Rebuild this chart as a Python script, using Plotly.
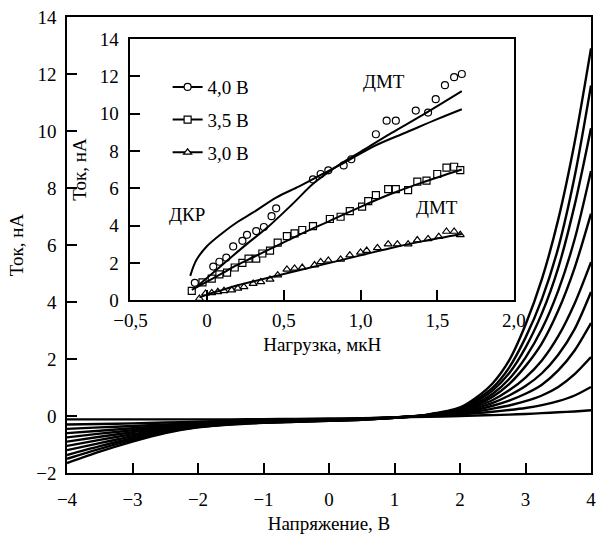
import plotly.graph_objects as go

# ---------------- main chart data: I-V curves ----------------
V = [-4, -3.5, -3, -2.5, -2, -1.5, -1, -0.5, 0, 0.5, 1, 1.5,
     2, 2.25, 2.5, 2.75, 3, 3.25, 3.5, 3.75, 4]

I_c1 = [-1.65, -1.25, -0.9, -0.6, -0.4, -0.3, -0.24, -0.2, -0.17, -0.13, -0.06, 0.05,
        0.3, 0.65, 1.15, 1.95, 3.2, 4.8, 6.9, 9.6, 12.9]
I_c2 = [-1.5, -1.15, -0.84, -0.57, -0.39, -0.29, -0.23, -0.2, -0.17, -0.13, -0.06, 0.04,
        0.27, 0.58, 1.0, 1.7, 2.75, 4.1, 5.9, 8.4, 11.6]
I_c3 = [-1.37, -1.06, -0.78, -0.54, -0.37, -0.28, -0.23, -0.19, -0.16, -0.12, -0.06, 0.04,
        0.24, 0.52, 0.9, 1.5, 2.4, 3.6, 5.2, 7.4, 10.1]
I_c4 = [-1.2, -0.95, -0.71, -0.5, -0.35, -0.27, -0.22, -0.18, -0.15, -0.12, -0.06, 0.03,
        0.21, 0.45, 0.78, 1.3, 2.05, 3.05, 4.4, 6.2, 8.6]
I_c5 = [-1.05, -0.84, -0.64, -0.46, -0.33, -0.26, -0.21, -0.17, -0.15, -0.11, -0.05, 0.03,
        0.19, 0.4, 0.68, 1.12, 1.75, 2.55, 3.7, 5.2, 7.1]
I_c6 = [-0.9, -0.73, -0.57, -0.42, -0.31, -0.25, -0.2, -0.17, -0.14, -0.11, -0.05, 0.02,
        0.16, 0.34, 0.56, 0.9, 1.35, 1.95, 2.8, 3.95, 5.4]
I_c7 = [-0.75, -0.62, -0.5, -0.38, -0.3, -0.24, -0.19, -0.16, -0.14, -0.1, -0.05, 0.02,
        0.14, 0.28, 0.46, 0.72, 1.05, 1.5, 2.15, 3.05, 4.35]
I_c8 = [-0.6, -0.52, -0.43, -0.34, -0.28, -0.22, -0.18, -0.15, -0.13, -0.1, -0.05, 0.01,
        0.11, 0.22, 0.36, 0.54, 0.78, 1.1, 1.6, 2.3, 3.26]
I_c9 = [-0.45, -0.4, -0.35, -0.3, -0.25, -0.2, -0.17, -0.14, -0.12, -0.09, -0.05, 0.0,
        0.08, 0.16, 0.26, 0.37, 0.52, 0.72, 1.02, 1.47, 2.07]
I_c10 = [-0.3, -0.28, -0.26, -0.23, -0.2, -0.17, -0.15, -0.13, -0.11, -0.09, -0.05, 0.0,
         0.05, 0.1, 0.15, 0.21, 0.28, 0.38, 0.52, 0.72, 1.02]
I_c11 = [-0.12, -0.12, -0.12, -0.12, -0.12, -0.12, -0.11, -0.1, -0.09, -0.08, -0.05, -0.03,
         0.0, 0.02, 0.03, 0.05, 0.07, 0.1, 0.13, 0.16, 0.2]
main_curves = [I_c1, I_c2, I_c3, I_c4, I_c5, I_c6, I_c7, I_c8, I_c9, I_c10, I_c11]

# ---------------- inset data: current vs load ----------------
F_40 = [-0.08, 0.04, 0.08, 0.125, 0.17, 0.23, 0.26, 0.32, 0.37, 0.42, 0.45, 0.69, 0.74,
        0.79, 0.89, 0.94, 1.10, 1.17, 1.23, 1.36, 1.44, 1.49, 1.55, 1.61, 1.66]
I_40 = [0.93, 1.8, 2.06, 2.28, 2.88, 3.18, 3.5, 3.7, 3.92, 4.5, 4.92, 6.47, 6.76,
        6.96, 7.22, 7.55, 8.89, 9.62, 9.62, 10.16, 10.05, 10.77, 11.52, 11.95, 12.12]

F_35 = [-0.10, -0.03, 0.03, 0.08, 0.13, 0.18, 0.23, 0.27, 0.32, 0.36, 0.41, 0.46, 0.52,
        0.57, 0.62, 0.69, 0.80, 0.87, 0.93, 1.01, 1.05, 1.10, 1.18, 1.23, 1.31, 1.37,
        1.43, 1.50, 1.56, 1.61, 1.65]
I_35 = [0.5, 0.95, 1.16, 1.38, 1.48, 1.75, 2.0, 2.23, 2.23, 2.5, 2.65, 3.08, 3.43,
        3.58, 3.76, 3.97, 4.35, 4.47, 4.77, 5.01, 5.31, 5.63, 5.95, 5.95, 5.90, 6.35,
        6.41, 6.76, 7.10, 7.15, 6.97]

F_30 = [-0.05, -0.01, 0.03, 0.07, 0.11, 0.16, 0.20, 0.24, 0.30, 0.35, 0.41, 0.46, 0.52,
        0.57, 0.62, 0.70, 0.74, 0.79, 0.87, 0.93, 1.00, 1.04, 1.11, 1.18, 1.24, 1.31,
        1.37, 1.44, 1.51, 1.56, 1.61, 1.65]
I_30 = [0.09, 0.36, 0.39, 0.45, 0.50, 0.54, 0.63, 0.71, 0.89, 0.98, 1.11, 1.34, 1.65,
        1.70, 1.75, 1.88, 2.05, 2.13, 2.18, 2.41, 2.56, 2.66, 2.8, 3.0, 3.0, 3.0,
        3.22, 3.28, 3.40, 3.68, 3.68, 3.5]

# fit lines
F_dmt40 = [-0.07, 0.1, 0.25, 0.4, 0.55, 0.7, 0.85, 1.0, 1.2, 1.4, 1.66]
I_dmt40 = [0.7, 1.9, 2.95, 3.95, 5.1, 6.3, 7.2, 7.95, 8.95, 9.9, 11.2]
F_jkr40 = [-0.11, -0.07, 0.0, 0.1, 0.2, 0.3, 0.45, 0.6, 0.75, 0.9, 1.1, 1.3, 1.5, 1.66]
I_jkr40 = [1.3, 2.15, 2.9, 3.6, 4.2, 4.7, 5.5, 6.1, 6.75, 7.4, 8.3, 9.0, 9.7, 10.23]
F_fit35 = [-0.1, 0.0, 0.1, 0.2, 0.3, 0.45, 0.6, 0.8, 1.0, 1.2, 1.4, 1.66]
I_fit35 = [0.55, 1.0, 1.45, 1.9, 2.3, 2.9, 3.5, 4.25, 5.0, 5.7, 6.3, 7.0]
F_fit30 = [-0.05, 0.0, 0.1, 0.2, 0.3, 0.45, 0.6, 0.8, 1.0, 1.2, 1.4, 1.66]
I_fit30 = [0.15, 0.3, 0.55, 0.8, 1.0, 1.3, 1.6, 2.0, 2.4, 2.8, 3.15, 3.55]

legend_names = ["4,0 В", "3,5 В", "3,0 В"]
label_txt = ["ДМТ", "ДМТ", "ДКР"]
label_x = [1.15, 1.50, -0.13]
label_y = [11.7, 4.95, 4.6]

main_xt = [-4, -3, -2, -1, 0, 1, 2, 3, 4]
main_yt = [-2, 0, 2, 4, 6, 8, 10, 12, 14]
in_xt = [-0.5, 0, 0.5, 1.0, 1.5, 2.0]
in_xtt = ["−0,5", "0", "0,5", "1,0", "1,5", "2,0"]
in_yt = [0, 2, 4, 6, 8, 10, 12, 14]

FONT = "Liberation Serif"
FS = 19
fig = go.Figure()

for c in main_curves:
    fig.add_trace(go.Scatter(x=V, y=c, mode="lines",
                             line=dict(color="black", width=2.4, shape="spline", smoothing=0.8),
                             showlegend=False, xaxis="x", yaxis="y", hoverinfo="skip"))

mk = dict(color="white", line=dict(color="black", width=1.2), size=7)
for F, I, sym in [(F_40, I_40, "circle"), (F_35, I_35, "square"), (F_30, I_30, "triangle-up")]:
    fig.add_trace(go.Scatter(x=F, y=I, mode="markers", marker=dict(symbol=sym, **mk),
                             showlegend=False, xaxis="x2", yaxis="y2"))

for F, I in [(F_dmt40, I_dmt40), (F_jkr40, I_jkr40), (F_fit35, I_fit35), (F_fit30, I_fit30)]:
    fig.add_trace(go.Scatter(x=F, y=I, mode="lines", line=dict(color="black", width=2, shape="spline"),
                             showlegend=False, xaxis="x2", yaxis="y2"))

# legend entries
for i, (sym, name) in enumerate(zip(["circle", "square", "triangle-up"], legend_names)):
    fig.add_trace(go.Scatter(x=[None], y=[None], mode="lines+markers", name=name, legendgroup=f"g{i}",
                             line=dict(color="black", width=2),
                             marker=dict(symbol=sym, color="white", size=7, line=dict(color="black", width=1.2)),
                             xaxis="x2", yaxis="y2"))

for t, lx, ly in zip(label_txt, label_x, label_y):
    fig.add_annotation(x=lx, y=ly, xref="x2", yref="y2", text=t, showarrow=False,
                       font=dict(family=FONT, size=FS, color="black"))

ax_common = dict(showline=True, linecolor="black", linewidth=1.5, mirror=True, ticks="inside",
                 ticklen=10, tickwidth=1.5, tickcolor="black", showgrid=False, zeroline=False,
                 tickfont=dict(family=FONT, size=FS, color="black"))

fig.update_layout(
    width=608, height=540,
    margin=dict(l=67, r=5, t=17, b=67),
    paper_bgcolor="white", plot_bgcolor="white",
    font=dict(family=FONT, size=FS, color="black"),
    xaxis=dict(domain=[0, 1], range=[-4, 4], tickvals=main_xt, anchor="y", ticklabelstandoff=8,
               title=dict(text="Напряжение, В", font=dict(family=FONT, size=FS), standoff=8), **ax_common),
    yaxis=dict(domain=[0, 1], range=[-2, 14], tickvals=main_yt, anchor="x", ticklabelstandoff=5,
               title=dict(text="Ток, нА", font=dict(family=FONT, size=FS), standoff=8), **ax_common),
    xaxis2=dict(domain=[0.121, 0.853], range=[-0.5, 2.0], tickvals=in_xt, ticktext=in_xtt, anchor="y2",
                ticklabelstandoff=2,
                title=dict(text="Нагрузка, мкН", font=dict(family=FONT, size=FS), standoff=8), **ax_common),
    yaxis2=dict(domain=[0.379, 0.952], range=[0, 14], tickvals=in_yt, anchor="x2", ticklabelstandoff=6,
                title=dict(text="Ток, нА", font=dict(family=FONT, size=FS), standoff=8), **ax_common),
    legend=dict(x=0.192, y=0.888, xanchor="left", yanchor="top", bgcolor="rgba(0,0,0,0)",
                font=dict(family=FONT, size=FS, color="black"), tracegroupgap=5),
    showlegend=True,
)

fig.write_html("out.html")
